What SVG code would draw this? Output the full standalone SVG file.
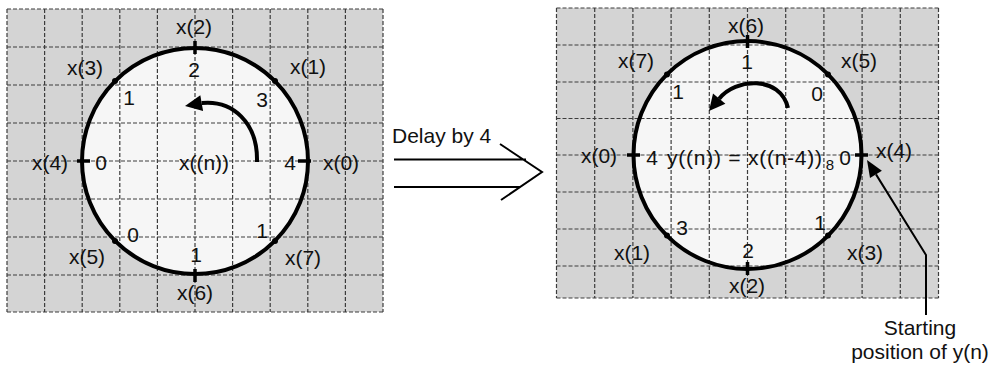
<svg xmlns="http://www.w3.org/2000/svg" width="1004" height="365" viewBox="0 0 1004 365">
<style>
.panel{fill:#d4d4d4}
.face{fill:#f6f6f6}
.grid{fill:none;stroke:#3c3c3c;stroke-width:1.2;stroke-dasharray:4 2}
.ring{fill:none;stroke:#000;stroke-width:4}
.tick{stroke:#000;stroke-width:3.5;fill:none}
.dot{fill:#000}
.t{font-family:"Liberation Sans",Arial,sans-serif;font-size:21px;fill:#111;text-anchor:middle}
.s{font-family:"Liberation Sans",Arial,sans-serif;font-size:15px;fill:#111;text-anchor:middle}
.l{fill:none;stroke:#000}
.head{fill:#000}
</style>
<rect width="1004" height="365" fill="#fff"/>

<g id="left-panel">
<rect class="panel" x="7" y="9" width="376" height="303"/>
<circle class="face" cx="195" cy="161" r="113"/>
<path class="grid" d="M7,9V312M44.6,9V312M82.2,9V312M119.8,9V312M157.4,9V312M195,9V312M232.6,9V312M270.2,9V312M307.8,9V312M345.4,9V312M383,9V312M7,9H383M7,47H383M7,85H383M7,123H383M7,161H383M7,199H383M7,237H383M7,275H383M7,312H383"/>
<circle class="ring" cx="195" cy="161" r="113"/>
<path class="tick" d="M195,41V54M298,161H311M77,161H90M195,269V282"/>
<circle class="dot" cx="275" cy="81" r="3"/>
<circle class="dot" cx="115" cy="81" r="3"/>
<circle class="dot" cx="115" cy="241" r="3"/>
<circle class="dot" cx="275" cy="241" r="3"/>
<text class="t" x="194" y="34">x(2)</text>
<text class="t" x="308" y="74">x(1)</text>
<text class="t" x="85" y="75">x(3)</text>
<text class="t" x="50" y="170">x(4)</text>
<text class="t" x="341" y="170">x(0)</text>
<text class="t" x="87" y="264">x(5)</text>
<text class="t" x="303" y="265">x(7)</text>
<text class="t" x="195" y="300">x(6)</text>
<text class="t" x="194" y="77">2</text>
<text class="t" x="129" y="105">1</text>
<text class="t" x="262" y="107">3</text>
<text class="t" x="101" y="170">0</text>
<text class="t" x="290" y="170">4</text>
<text class="t" x="133" y="242">0</text>
<text class="t" x="196" y="262">1</text>
<text class="t" x="262" y="238">1</text>
<text class="t" x="204" y="170">x((n))</text>
<path class="l" stroke-width="4" d="M257,162C258,122 232,100 201.7,103.1"/>
<polygon class="head" points="185,106 200.3,95.2 203.1,111"/>
</g>

<g id="delay-arrow">
<text class="t" x="392" y="143" style="text-anchor:start">Delay by 4</text>
<path class="l" stroke-width="2" d="M394,159.5H526M394,187H520M500,144L542,172L501,200"/>
</g>

<g id="right-panel">
<rect class="panel" x="556.5" y="8" width="382" height="290"/>
<circle class="face" cx="747.5" cy="155" r="114"/>
<path class="grid" d="M556.5,8V298M594.7,8V298M632.9,8V298M671.1,8V298M709.3,8V298M747.5,8V298M785.7,8V298M823.9,8V298M862.1,8V298M900.3,8V298M938.5,8V298M556.5,8H938.5M556.5,45H938.5M556.5,82H938.5M556.5,118.5H938.5M556.5,155H938.5M556.5,192H938.5M556.5,229H938.5M556.5,266H938.5M556.5,298H938.5"/>
<circle class="ring" cx="747.5" cy="155" r="114"/>
<path class="tick" d="M747.5,35V48M627,155H640M855,155H868M747.5,262V275"/>
<circle class="dot" cx="667" cy="74.5" r="3"/>
<circle class="dot" cx="828" cy="74.5" r="3"/>
<circle class="dot" cx="667" cy="235.5" r="3"/>
<circle class="dot" cx="828" cy="235.5" r="3"/>
<text class="t" x="746" y="33">x(6)</text>
<text class="t" x="636" y="68">x(7)</text>
<text class="t" x="859" y="68">x(5)</text>
<text class="t" x="599" y="163">x(0)</text>
<text class="t" x="894" y="158">x(4)</text>
<text class="t" x="632" y="260">x(1)</text>
<text class="t" x="865" y="260">x(3)</text>
<text class="t" x="747" y="293">x(2)</text>
<text class="t" x="747" y="69">1</text>
<text class="t" x="678" y="99">1</text>
<text class="t" x="817" y="101">0</text>
<text class="t" x="652" y="165">4</text>
<text class="t" x="667" y="165" style="text-anchor:start" textLength="155" lengthAdjust="spacing">y((n)) = x((n-4))</text>
<text class="s" x="830" y="170">8</text>
<text class="t" x="845" y="165">0</text>
<text class="t" x="682" y="235">3</text>
<text class="t" x="820" y="230">1</text>
<text class="t" x="748" y="258">2</text>
<path class="l" stroke-width="4" d="M788,108C780,75 735,78 719.2,98.7"/>
<polygon class="head" points="709,111 713,93.6 725.4,103.8"/>
</g>

<g id="start-annotation">
<path class="l" stroke-width="2" d="M926,315V255L876,174.4"/>
<polygon class="head" points="867,160 881.9,170.7 870,178.1"/>
<text class="t" x="920" y="335">Starting</text>
<text class="t" x="920" y="359">position of y(n)</text>
</g>
</svg>
